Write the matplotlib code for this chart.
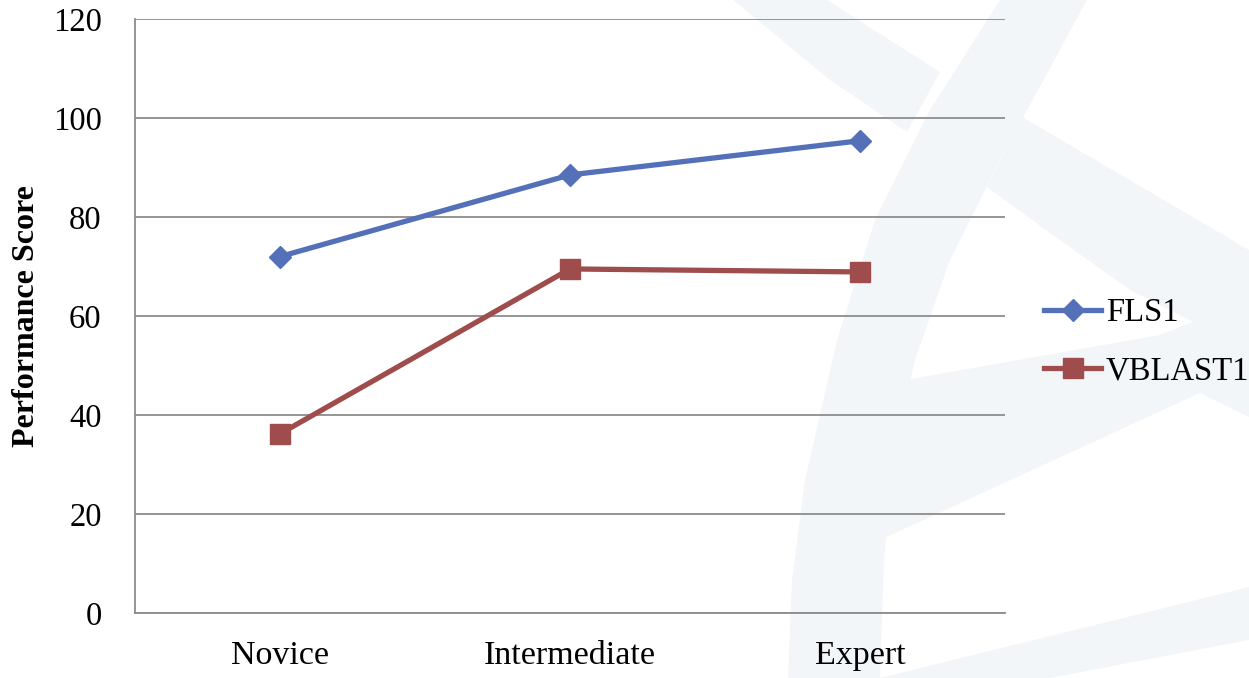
import matplotlib
matplotlib.use("Agg")
import matplotlib.pyplot as plt
from matplotlib.patches import Polygon

levels = ["Novice", "Intermediate", "Expert"]
fls1 = [72, 88.5, 95.4]
vblast1 = [36.2, 69.5, 68.9]
y_ticks = [0, 20, 40, 60, 80, 100, 120]

BLUE = "#5470B8"
RED = "#9E4C4C"
GRID = "#8C8C8C"
WATERMARK = "#F3F6F9"

W, H = 1249, 678

# faint background logo, outlines in pixel coords from top-left
logo_shapes = [
    [(733, 0), (827, 0), (940, 72), (907, 132), (830, 80)],
    [(1000, 0), (930, 110), (875, 220), (837, 340), (805, 480), (792, 580),
     (788, 678), (880, 678), (884, 560), (895, 450), (915, 360), (950, 260),
     (1000, 160), (1087, 0)],
    [(987, 187), (1022, 117), (1249, 250), (1249, 350), (1130, 290), (1043, 228)],
    [(905, 380), (1160, 335), (1249, 300), (1249, 417), (1200, 393), (880, 540)],
    [(880, 678), (1249, 587), (1249, 640), (1050, 678)],
]

plt.rcParams["font.family"] = ["Liberation Serif", "DejaVu Serif"]

fig = plt.figure(figsize=(W / 100, H / 100), dpi=100)
for pts in logo_shapes:
    fig.patches.append(Polygon([(px / W, 1 - py / H) for px, py in pts],
                               closed=True, transform=fig.transFigure,
                               facecolor=WATERMARK, edgecolor="none", zorder=-1))

ax = fig.add_axes([0.1081, 0.0959, 0.6965, 0.8761])
ax.patch.set_alpha(0)

x = [i + 0.5 for i in range(len(levels))]
ax.plot(x, fls1, color=BLUE, lw=3.8, marker="D", ms=11, label="FLS1")
ax.plot(x, vblast1, color=RED, lw=3.8, marker="s", ms=14, label="VBLAST1")

ax.set_xlim(0, len(levels))
ax.set_ylim(0, 120)
ax.set_xticks(x)
ax.set_xticklabels(levels)
ax.set_yticks(y_ticks)
ax.tick_params(length=0, labelsize=23.5)
ax.tick_params(axis="x", labelsize=24.5, pad=20)
ax.tick_params(axis="y", pad=24)
ax.grid(axis="y", color=GRID, lw=1.3)
ax.set_axisbelow(True)
for side in ["top", "right"]:
    ax.spines[side].set_visible(False)
for side in ["left", "bottom"]:
    ax.spines[side].set_color(GRID)
    ax.spines[side].set_linewidth(1.3)

ax.set_ylabel("Performance Score", fontsize=23, fontweight="bold")
ax.yaxis.set_label_coords(-0.108, 0.5)

ax.legend(loc="center left", bbox_to_anchor=(1044 / W, 1 - 342 / H),
          bbox_transform=fig.transFigure, frameon=False, borderpad=0,
          borderaxespad=0, fontsize=23.5, handlelength=1.75,
          handletextpad=0.15, labelspacing=0.85)

fig.savefig("out.png", dpi=100)
